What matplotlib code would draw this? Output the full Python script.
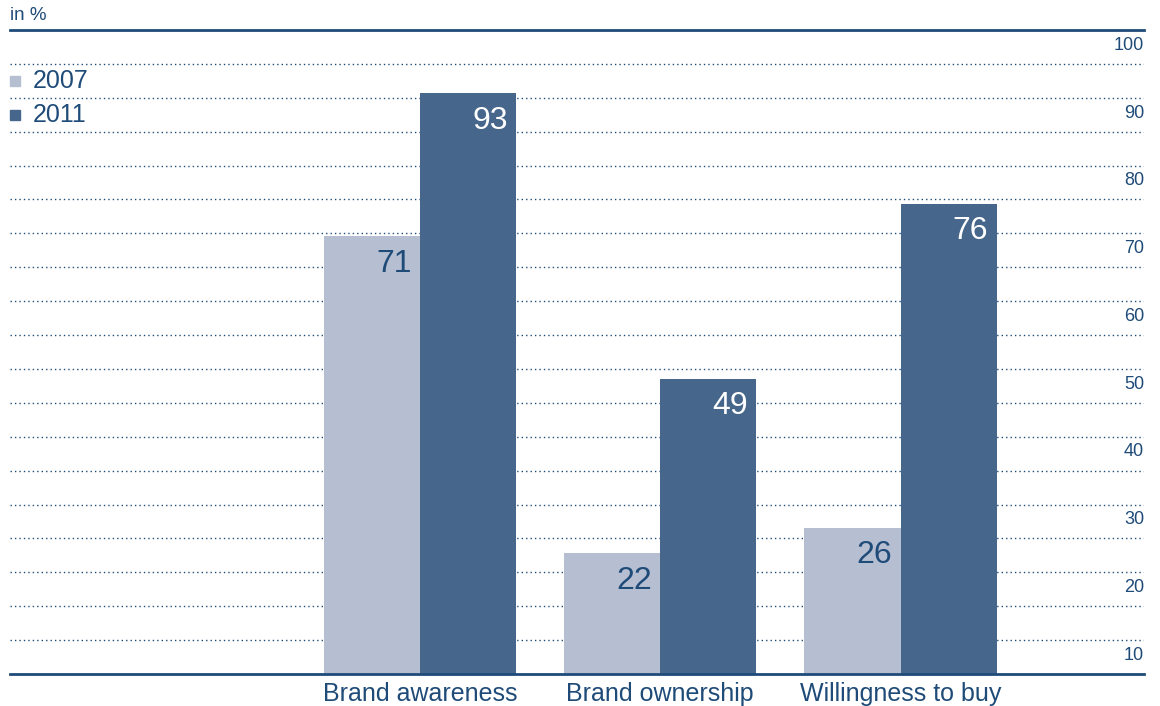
import numpy as np
import matplotlib
matplotlib.use("Agg")
from matplotlib import pyplot as plt

# данные
categories = ["Brand awareness", "Brand ownership", "Willingness to buy"]
years = ["2007", "2011"]
vals_2007 = [71, 22, 26]
vals_2011 = [93, 49, 76]
tick_labels = [10, 20, 30, 40, 50, 60, 70, 80, 90, 100]

c_light = "#b6bed2"
c_dark = "#46668b"
c_text = "#1f4b78"
c_line = "#1f4b78"

plt.rcParams['font.family'] = ['Liberation Sans', 'DejaVu Sans']

fig = plt.figure(figsize=(11.6, 7.06), dpi=100)
ax = fig.add_axes([10/1160, 32/706, 1134/1160, 644/706])

# шкала подобрана под картинку (столбцы в оригинале не совсем пропорциональны)
ax.set_ylim(3.4, 102.8)
ax.set_xlim(-1.705, 3.013)

x = np.arange(len(categories))
w = 0.4
b1 = ax.bar(x - w/2, vals_2007, w, bottom=0, color=c_light, zorder=3, label=years[0])
b2 = ax.bar(x + w/2, vals_2011, w, bottom=0, color=c_dark, zorder=3, label=years[1])

# точечные линии сетки, 19 полос
nband = 19
for k in range(1, nband):
    f = k / nband
    ax.plot([0, 1], [f, f], transform=ax.transAxes, color=c_line, lw=1.0,
            linestyle=(0, (1, 2.2)), zorder=1)

# подписи шкалы справа
for i, t in enumerate(tick_labels):
    k = 2 * (i + 1) - 1.45
    ax.text(1.0, k / nband, str(t), transform=ax.transAxes, ha="right", va="center",
            fontsize=13, color=c_text)

# значения на столбцах
for rect, v in zip(b1, vals_2007):
    ax.annotate(str(v), (rect.get_x() + rect.get_width(), v), xytext=(-6, -9),
                textcoords="offset points", ha="right", va="top", fontsize=23,
                color=c_text, zorder=4)
for rect, v in zip(b2, vals_2011):
    ax.annotate(str(v), (rect.get_x() + rect.get_width(), v), xytext=(-6, -9),
                textcoords="offset points", ha="right", va="top", fontsize=23,
                color="white", zorder=4)

# легенда вручную
for j, (yr, col) in enumerate(zip(years, [c_light, c_dark])):
    f = (17.5 - j) / nband
    ax.plot([5/1134], [f], marker="s", markersize=7.5, color=col, transform=ax.transAxes,
            clip_on=False, zorder=4, linestyle="none")
    ax.text(23/1134, f, yr, transform=ax.transAxes, ha="left", va="center",
            fontsize=18, color=c_text)

ax.text(0, 1.0 + 6/644, "in %", transform=ax.transAxes, ha="left", va="bottom",
        fontsize=13.5, color=c_text)

ax.set_xticks(x)
ax.set_xticklabels(categories, fontsize=18, color=c_text)
ax.tick_params(axis="x", length=0, pad=6)
ax.set_yticks([])

for s in ["left", "right"]:
    ax.spines[s].set_visible(False)
for s in ["top", "bottom"]:
    ax.spines[s].set_color(c_line)
    ax.spines[s].set_linewidth(2)
    ax.spines[s].set_zorder(5)

fig.savefig("out.png", dpi=100)
